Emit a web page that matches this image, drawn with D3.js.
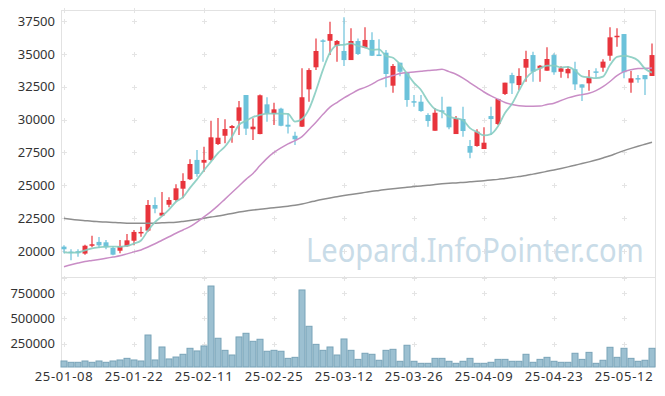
<!DOCTYPE html>
<html>
<head>
<meta charset="utf-8">
<script src="https://cdn.jsdelivr.net/npm/d3@7"></script>
<style>
  body { margin: 0; background: #fff; }
  svg { display: block; font-family: "Noto Sans", sans-serif; }
</style>
</head>
<body>
<svg id="chart" width="665" height="396"></svg>
<script>
// trading days (KRX), 25-01-08 .. 25-05-16
const dates = [
  "25-01-08","25-01-09","25-01-10","25-01-13","25-01-14","25-01-15","25-01-16","25-01-17","25-01-20","25-01-21",
  "25-01-22","25-01-23","25-01-24","25-01-31","25-02-03","25-02-04","25-02-05","25-02-06","25-02-07","25-02-10",
  "25-02-11","25-02-12","25-02-13","25-02-14","25-02-17","25-02-18","25-02-19","25-02-20","25-02-21","25-02-24",
  "25-02-25","25-02-26","25-02-27","25-02-28","25-03-04","25-03-05","25-03-06","25-03-07","25-03-10","25-03-11",
  "25-03-12","25-03-13","25-03-14","25-03-17","25-03-18","25-03-19","25-03-20","25-03-21","25-03-24","25-03-25",
  "25-03-26","25-03-27","25-03-28","25-03-31","25-04-01","25-04-02","25-04-03","25-04-04","25-04-07","25-04-08",
  "25-04-09","25-04-10","25-04-11","25-04-14","25-04-15","25-04-16","25-04-17","25-04-18","25-04-21","25-04-22",
  "25-04-23","25-04-24","25-04-25","25-04-28","25-04-29","25-04-30","25-05-02","25-05-07","25-05-08","25-05-09",
  "25-05-12","25-05-13","25-05-14","25-05-15","25-05-16"
];

const open = [
  20330,19950,19980,19800,20430,20690,20660,20230,20020,20360,
  20780,21370,21550,23500,22690,23520,23880,24740,25460,26930,
  26720,26930,28140,28770,29360,29910,31870,29260,28900,31160,
  30420,30830,29610,28770,29460,32300,33980,36030,36000,35620,
  35220,34530,35980,35470,36060,34950,35090,32580,34330,33570,
  31400,31360,30350,29150,30700,30980,28900,30040,27990,27990,
  27760,30270,29660,31950,33390,32630,33950,34910,33900,33720,
  34910,33640,33520,33830,32680,32760,33670,33950,34860,36330,
  36510,32810,33160,33390,33320
];
const high = [
  20430,20130,20130,20480,21160,21060,20840,20380,20840,21290,
  21600,21850,23880,24090,24490,24090,25080,25910,26980,27680,
  27940,29910,30130,30020,29590,31410,31870,30100,31900,31700,
  31280,30900,30470,29080,33900,33900,36180,36110,37450,36060,
  37780,36950,36180,37020,36640,36110,35290,34230,34330,33570,
  31870,31870,30480,30860,31740,30980,30270,30980,28450,29260,
  29410,30980,31570,32810,33560,33900,35240,35170,34150,35500,
  35040,34060,34060,34410,32680,33770,33900,34590,37020,36950,
  36510,33700,33400,33390,35800
];
const low = [
  19830,19290,19570,19720,20280,20230,20130,19680,19830,20330,
  20430,21090,21470,22870,22660,23330,23750,24010,25400,25650,
  26030,26870,28070,28200,28240,28830,28830,28450,28880,29840,
  29590,29500,28950,28060,29430,31360,33770,34400,34910,34400,
  34080,34530,34910,35420,34840,34840,32460,32050,33300,30980,
  30980,30600,29460,29150,30100,29260,28900,28700,27060,27940,
  27760,28830,29590,31870,31950,32250,32880,32880,32880,33720,
  33420,33190,33140,32250,31410,32200,33180,33640,34480,35550,
  33140,32050,32810,31870,33320
];
const close = [
  20130,19900,19830,20400,20510,20430,20280,19720,20380,20810,
  21450,21450,23500,23220,22910,23880,24770,25330,26620,25860,
  26930,28650,28620,29280,29510,30930,29310,29460,31850,30470,
  30780,29530,29460,28500,31700,33770,35220,35980,36510,35980,
  34530,35980,34990,36060,34860,34900,33470,34080,33640,31490,
  31360,30650,29890,30520,30620,29410,30100,29130,27480,29080,
  28240,30040,31570,32810,32760,33320,34610,33640,34100,34610,
  33600,33900,33850,32680,32430,33190,33620,34410,36260,36380,
  33600,33140,33130,33070,34910
];
const volume = [
  79000,66000,66000,79000,66000,79000,66000,79000,89000,105000,
  89000,79000,335000,89000,217000,99000,118000,145000,204000,178000,
  227000,818000,303000,184000,138000,316000,352000,273000,293000,175000,
  184000,175000,105000,115000,779000,421000,243000,184000,217000,138000,
  296000,184000,95000,155000,145000,86000,184000,194000,76000,234000,
  76000,56000,56000,105000,105000,76000,56000,76000,105000,56000,
  56000,66000,95000,95000,76000,76000,145000,66000,95000,115000,
  76000,66000,66000,155000,95000,164000,56000,86000,214000,115000,
  204000,105000,76000,86000,204000
];
const ma5 = [
  19900,19880,19900,20050,20200,20280,20330,20330,20320,20380,
  20560,20800,21560,22200,22650,23150,23750,24100,24800,25450,
  26150,26800,27450,27950,28700,29600,29900,30200,30350,30450,
  30450,30450,30430,29850,30050,30800,32200,33800,35100,35650,
  35700,35800,35600,35500,35300,35350,34850,34700,34200,33500,
  32800,32250,31400,30800,30600,30220,30100,29950,29350,29050,
  28800,28900,29500,30500,31200,32200,33150,33650,33900,34100,
  34110,33970,34010,33730,33290,33210,33150,33270,34150,34770,
  34850,34760,34500,33870,33580
];
const ma20 = [
  18800,18950,19080,19200,19280,19360,19450,19540,19630,19780,
  19930,20080,20300,20550,20820,21080,21350,21600,21850,22200,
  22600,23000,23450,23950,24450,24950,25450,25900,26500,27050,
  27500,27850,28150,28400,28700,29250,29800,30400,30950,31300,
  31650,31950,32250,32450,32700,33000,33200,33350,33500,33580,
  33620,33680,33740,33780,33830,33650,33450,33150,32800,32450,
  32100,31800,31550,31300,31150,31050,31020,31020,31030,31150,
  31250,31450,31650,31800,31900,32000,32200,32500,32900,33350,
  33650,33800,33880,33900,33920
];
const ma120 = [
  22490,22420,22360,22310,22260,22230,22200,22170,22140,22120,
  22110,22110,22110,22120,22140,22160,22190,22250,22320,22400,
  22490,22580,22660,22760,22860,22960,23050,23120,23180,23240,
  23290,23350,23410,23480,23580,23700,23830,23940,24040,24130,
  24220,24300,24380,24460,24540,24610,24680,24740,24800,24850,
  24900,24950,25000,25060,25110,25150,25180,25220,25260,25300,
  25350,25400,25450,25520,25590,25670,25750,25850,25950,26060,
  26170,26280,26400,26530,26650,26780,26920,27080,27250,27450,
  27640,27810,27970,28120,28270
];
const priceTicks = [20000, 22500, 25000, 27500, 30000, 32500, 35000, 37500];
const volumeTicks = [250000, 500000, 750000];
const dateTicks = dates.filter((d, i) => i % 10 === 0);

const svg = d3.select("#chart");
const plot = {left: 60.5, right: 655.5, top: 10, priceBottom: 277, volTop: 278, volBottom: 367};

const x = d3.scaleBand().domain(dates).range([plot.left, plot.right]).padding(0);
const cx = d => x(d) + x.bandwidth() / 2;
const yP = d3.scaleLinear().domain([18020, 38340]).range([plot.priceBottom, plot.top]);
const yV = d3.scaleLinear().domain([0, 897000]).range([369, plot.volTop]);

const up = "#e8343c", down = "#6cc2da", grid = "#e4e4e4";

// grid crosses
const crossG = svg.append("g").attr("stroke", grid).attr("stroke-width", 1);
const crossRows = [plot.top, ...priceTicks.map(yP), plot.volTop, ...volumeTicks.map(yV)];
dateTicks.forEach(d => {
    crossRows.forEach(yy => {
        const xx = Math.round(cx(d)) + 0.5, y0 = Math.round(yy) + 0.5;
        crossG.append("path").attr("d", `M${xx - 2.5},${y0}h5M${xx},${y0 - 2.5}v5`);
    });
});

// frame
const frame = svg.append("g").attr("stroke", "#e2e2e2").attr("stroke-width", 1).attr("fill", "none");
frame.append("line").attr("x1", 61.5).attr("x2", 61.5).attr("y1", plot.top).attr("y2", plot.volBottom);
frame.append("line").attr("x1", 61).attr("x2", 656).attr("y1", plot.top + 0.5).attr("y2", plot.top + 0.5);
frame.append("line").attr("x1", 655.5).attr("x2", 655.5).attr("y1", plot.top).attr("y2", plot.volBottom);
frame.append("line").attr("x1", 61).attr("x2", 656).attr("y1", plot.volTop - 0.5).attr("y2", plot.volTop - 0.5);

// watermark, squeezed horizontally to the reference width
const wm = svg.append("text")
    .attr("x", 0).attr("y", 0)
    .attr("font-size", 33)
    .attr("fill", "#c9dce8")
    .text("Leopard.InfoPointer.com");
const wmWidth = wm.node().getComputedTextLength();
wm.attr("transform", `translate(306,262) scale(${338 / wmWidth},1)`);

// volume bars
svg.append("g").selectAll("rect").data(dates).enter().append("rect")
    .attr("x", d => x(d) + 0.5)
    .attr("width", x.bandwidth() - 1)
    .attr("y", (d, i) => yV(volume[i]))
    .attr("height", (d, i) => plot.volBottom - yV(volume[i]))
    .attr("fill", "#9cc0d1")
    .attr("stroke", "#79a3b8")
    .attr("stroke-width", 1);

// candles
const candles = svg.append("g").selectAll("g").data(dates).enter().append("g")
    .attr("stroke", (d, i) => close[i] >= open[i] ? up : down)
    .attr("fill", (d, i) => close[i] >= open[i] ? up : down);
candles.append("line")
    .attr("x1", d => cx(d)).attr("x2", d => cx(d))
    .attr("y1", (d, i) => yP(high[i]))
    .attr("y2", (d, i) => yP(low[i]))
    .attr("stroke-width", 1.2);
candles.append("rect")
    .attr("x", d => cx(d) - 2.5)
    .attr("width", 5)
    .attr("y", (d, i) => yP(Math.max(open[i], close[i])))
    .attr("height", (d, i) => Math.max(1.5, Math.abs(yP(open[i]) - yP(close[i]))))
    .attr("stroke", "none");

// moving averages
const line = d3.line().x((v, i) => cx(dates[i])).y(v => yP(v)).curve(d3.curveMonotoneX);
[[ma120, "#8e8e8e", 1.5, 1], [ma20, "#c98dc6", 1.5, 1], [ma5, "#87cdc1", 1.8, 0.9]].forEach(([s, c, w, o]) => {
    svg.append("path").datum(s)
        .attr("d", line)
        .attr("fill", "none")
        .attr("stroke", c)
        .attr("stroke-width", w)
        .attr("stroke-opacity", o);
});

// axes
const styleAxis = g => {
    g.select(".domain").remove();
    g.selectAll("text").attr("fill", "#333").attr("font-size", 13).attr("font-family", "Noto Sans, sans-serif");
};
svg.append("g").attr("transform", `translate(61,0)`)
    .call(d3.axisLeft(yP).tickValues(priceTicks).tickSize(0).tickPadding(6).tickFormat(d3.format("d")))
    .call(styleAxis);
svg.append("g").attr("transform", `translate(61,0)`)
    .call(d3.axisLeft(yV).tickValues(volumeTicks).tickSize(0).tickPadding(6).tickFormat(d3.format("d")))
    .call(styleAxis);
svg.append("g").attr("transform", `translate(0,${plot.volBottom})`)
    .call(d3.axisBottom(x).tickValues(dateTicks).tickSize(0).tickPadding(5))
    .call(styleAxis)
    .call(g => g.selectAll("text").attr("letter-spacing", 0.7));
</script>
</body>
</html>
